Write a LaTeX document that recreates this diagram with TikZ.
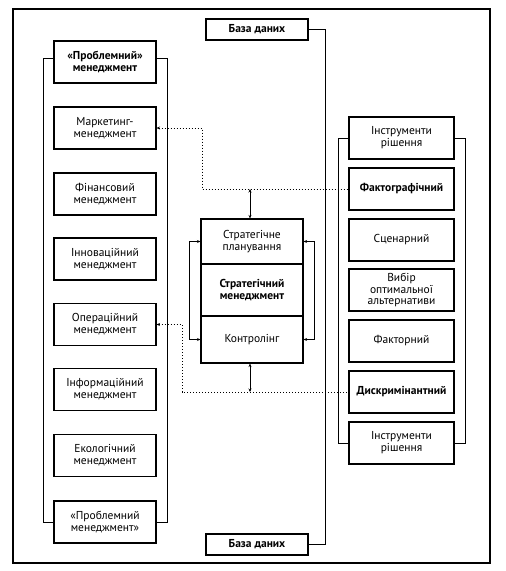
\documentclass[tikz,border=0pt]{standalone}
\usepackage{fontspec}
\setmainfont{PT Sans}
\usetikzlibrary{arrows.meta}
\begin{document}
\begin{tikzpicture}[x=1pt,y=-1pt,
  box/.style={draw,line width=1.1pt,minimum width=102pt,minimum height=42pt,inner sep=1pt,align=center,font=\fontsize{11.5}{11.8}\selectfont},
  rbox/.style={box,minimum width=105pt},
  bbox/.style={box,font=\fontsize{11.5}{11.8}\selectfont\bfseries},
  rbbox/.style={rbox,font=\fontsize{11.5}{11.8}\selectfont\bfseries},
  ln/.style={line width=0.9pt},
  dl/.style={line width=1pt,dotted},
  >={Stealth[length=3.5pt,width=3pt]}]
\useasboundingbox (0,0) rectangle (506,571);
\draw[line width=1.1pt] (13,9) rectangle (490,563);
% left column
\node[bbox] (lp1) at (105,62) {«Проблемний»\\менеджмент};
\node[box] (mk) at (105,128) {Маркетинг-\\менеджмент};
\node[box] (fin) at (105,194) {Фінансовий\\менеджмент};
\node[box] (inn) at (105,259) {Інноваційний\\менеджмент};
\node[box] (op) at (105,324.5) {Операційний\\менеджмент};
\node[box] (inf) at (105,389.5) {Інформаційний\\менеджмент};
\node[box] (eco) at (105,455.5) {Екологічний\\менеджмент};
\node[box] (lp2) at (105,522) {«Проблемний\\менеджмент»};
\draw[ln] (lp1.west |- 0,58) -- (43,58) -- (43,522) -- (lp2.west);
\draw[ln] (lp1.east |- 0,58) -- (167,58) -- (167,522) -- (lp2.east);
% right column
\node[rbox] (ir1) at (401.5,138) {Інструменти\\рішення};
\node[rbbox] (fact) at (401.5,189) {Фактографічний};
\node[rbox] (scen) at (401.5,240) {Сценарний};
\node[rbox] (vyb) at (401.5,290) {Вибір\\оптимальної\\альтернативи};
\node[rbox] (ftr) at (401.5,341) {Факторний};
\node[rbbox] (disc) at (401.5,392) {Дискримінантний};
\node[rbox] (ir2) at (401.5,443) {Інструменти\\рішення};
\draw[ln] (ir1.west) -- (338,138) -- (338,443) -- (ir2.west);
\draw[ln] (ir1.east) -- (465,138) -- (465,443) -- (ir2.east);
% centre
\node[box,minimum height=45pt] (cp1) at (252,241.5) {Стратегічне\\планування};
\node[bbox,minimum height=52pt] (cp2) at (252,290) {Стратегічний\\менеджмент};
\node[box,minimum height=47pt] (cp3) at (252,339.5) {Контролінг};
\draw[ln,<->] (cp1.west) -- ++(-11,0) |- (cp3.west);
\draw[ln,<->] (cp1.east) -- ++(11,0) |- (cp3.east);
% data bases
\node[bbox,minimum height=21pt] (db1) at (257,29.5) {База даних};
\node[bbox,minimum height=21pt] (db2) at (257,544.5) {База даних};
\draw[ln] (db1.east) -- (325,29.5) -- (325,544.5) -- (db2.east);
% dotted connectors
\draw[dl,<-] (mk.east) -- (202,128) |- (fact.west);
\draw[dl,<-] (op.east) -- (182,324.5) |- (disc.west);
\coordinate (t1) at (250,189);
\coordinate (t2) at (250,392);
\draw[ln,<->] (t1) -- (t1 |- cp1.north);
\draw[ln,<->] (t2) -- (t2 |- cp3.south);
\end{tikzpicture}
\end{document}
